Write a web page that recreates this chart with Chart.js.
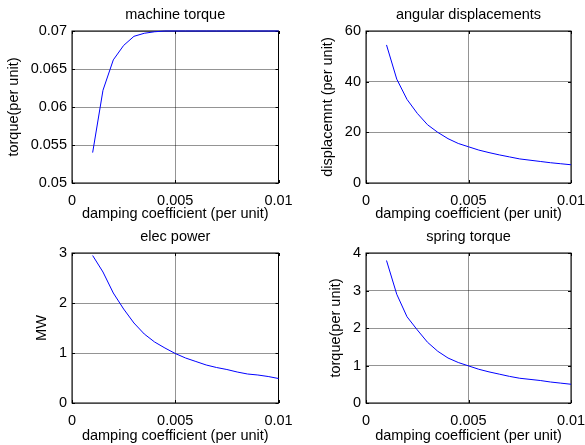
<!DOCTYPE html>
<html>
<head>
<meta charset="utf-8">
<script src="https://cdn.jsdelivr.net/npm/chart.js@4/dist/chart.umd.min.js"></script>
<style>
  html, body { margin: 0; padding: 0; background: #fff; }
  #wrap { position: relative; width: 585px; height: 445px; overflow: hidden; }
  canvas { position: absolute; }
</style>
</head>
<body>
<div id="wrap">
  <canvas id="c1" width="292" height="222" style="left:0;top:0"></canvas>
  <canvas id="c2" width="293" height="222" style="left:292px;top:0"></canvas>
  <canvas id="c3" width="292" height="223" style="left:0;top:222px"></canvas>
  <canvas id="c4" width="293" height="223" style="left:292px;top:222px"></canvas>
</div>
<script>
// damping coefficient (per unit)
const damping = [0.001, 0.0015, 0.002, 0.0025, 0.003, 0.0035, 0.004, 0.0045, 0.005, 0.0055,
                 0.006, 0.0065, 0.007, 0.0075, 0.008, 0.0085, 0.009, 0.0095, 0.01];

const machineTorque = [0.054, 0.0622, 0.0662, 0.0681, 0.0693, 0.0697, 0.0699, 0.07, 0.07, 0.07,
                       0.07, 0.07, 0.07, 0.07, 0.07, 0.07, 0.07, 0.07, 0.07];
const angularDisp = [54.5, 41, 33, 27.5, 23, 20, 17.5, 15.6, 14.3, 13,
                     12, 11.1, 10.3, 9.5, 9, 8.5, 8, 7.6, 7.2];
const elecPower = [2.95, 2.62, 2.2, 1.88, 1.6, 1.38, 1.22, 1.1, 0.99, 0.9,
                   0.83, 0.76, 0.71, 0.67, 0.62, 0.58, 0.56, 0.53, 0.49];
const springTorque = [3.8, 2.9, 2.3, 1.95, 1.62, 1.38, 1.2, 1.08, 0.99, 0.9,
                      0.83, 0.77, 0.71, 0.66, 0.63, 0.6, 0.56, 0.53, 0.5];

const xTicks = [0, 0.005, 0.01];
const xTickLabels = ['0', '0.005', '0.01'];
const torqueTickLabels = ['0.05', '0.055', '0.06', '0.065', '0.07'];
const dispTickLabels = ['0', '20', '40', '60'];
const powerTickLabels = ['0', '1', '2', '3'];
const springTickLabels = ['0', '1', '2', '3', '4'];

const xTitle = 'damping coefficient (per unit)';

const FONT = { family: '"Liberation Sans", Arial, Helvetica, sans-serif', size: 14.5, lineHeight: 1 };

// full box around the plot + small inward tick marks like matlab
const boxPlugin = {
    id: 'box',
    beforeDatasetsDraw(chart) {
        const { ctx, chartArea: a, scales } = chart;
        ctx.save();
        ctx.strokeStyle = '#000';
        ctx.lineWidth = 1;
        ctx.strokeRect(a.left, a.top, a.right - a.left, a.bottom - a.top);
        ctx.beginPath();
        scales.x.ticks.forEach(t => {
            const px = Math.round(scales.x.getPixelForValue(t.value)) + 0.5;
            ctx.moveTo(px, a.bottom); ctx.lineTo(px, a.bottom - 3);
            ctx.moveTo(px, a.top); ctx.lineTo(px, a.top + 3);
        });
        scales.y.ticks.forEach(t => {
            const py = Math.round(scales.y.getPixelForValue(t.value)) + 0.5;
            ctx.moveTo(a.left, py); ctx.lineTo(a.left + 3, py);
            ctx.moveTo(a.right, py); ctx.lineTo(a.right - 3, py);
        });
        ctx.stroke();
        ctx.restore();
    }
};

function makeChart(id, opts) {
    const pts = damping.map((d, i) => ({ x: d, y: opts.values[i] }));
    return new Chart(document.getElementById(id), {
        type: 'line',
        data: {
            datasets: [{
                data: pts,
                borderColor: '#0000ff',
                borderWidth: 1,
                pointRadius: 0,
                tension: 0,
                fill: false,
                clip: false
            }]
        },
        options: {
            responsive: false,
            devicePixelRatio: 1,
            animation: false,
            events: [],
            layout: { padding: { left: 0, right: opts.padRight, top: 0, bottom: 0 } },
            plugins: {
                legend: { display: false },
                tooltip: { enabled: false },
                title: {
                    display: true,
                    fullSize: false,
                    text: opts.title,
                    color: '#000',
                    font: Object.assign({}, FONT, { weight: 'normal' }),
                    padding: { top: 8, bottom: 8.5 }
                }
            },
            scales: {
                x: {
                    type: 'linear',
                    min: 0,
                    max: 0.01,
                    afterBuildTicks: s => { s.ticks = xTicks.map(v => ({ value: v })); },
                    ticks: {
                        color: '#000',
                        font: FONT,
                        padding: 11,
                        maxRotation: 0,
                        callback: (v, i) => xTickLabels[i]
                    },
                    grid: { color: 'rgba(0,0,0,0.42)', drawTicks: false },
                    border: { display: false },
                    title: {
                        display: true,
                        text: xTitle,
                        color: '#000',
                        font: FONT,
                        padding: { top: 0, bottom: opts.xTitlePad }
                    },
                    afterFit: s => {
                        s.height = opts.xHeight;
                        s.paddingLeft = 0;
                        s.paddingRight = 0;
                    }
                },
                y: {
                    type: 'linear',
                    min: opts.yMin,
                    max: opts.yMax,
                    afterBuildTicks: s => {
                        s.ticks = opts.yLabels.map((l, i) => ({ value: opts.yMin + i * opts.yStep }));
                    },
                    ticks: {
                        color: '#000',
                        font: FONT,
                        padding: 5,
                        callback: (v, i) => opts.yLabels[i]
                    },
                    grid: { color: 'rgba(0,0,0,0.42)', drawTicks: false },
                    border: { display: false },
                    title: {
                        display: true,
                        text: opts.yTitle,
                        color: '#000',
                        font: FONT,
                        padding: { top: opts.yTitlePad, bottom: 0 }
                    },
                    afterFit: s => {
                        s.width = opts.yWidth;
                        s.paddingTop = 0;
                        s.paddingBottom = 0;
                    }
                }
            }
        },
        plugins: [boxPlugin]
    });
}

makeChart('c1', {
    title: 'machine torque', yTitle: 'torque(per unit)', values: machineTorque,
    yMin: 0.05, yMax: 0.07, yStep: 0.005, yLabels: torqueTickLabels,
    yWidth: 72, padRight: 13.5, yTitlePad: 6.25, xHeight: 39, xTitlePad: 0.5
});
makeChart('c2', {
    title: 'angular displacements', yTitle: 'displacemnt (per unit)', values: angularDisp,
    yMin: 0, yMax: 60, yStep: 20, yLabels: dispTickLabels,
    yWidth: 74, padRight: 14, yTitlePad: 28.25, xHeight: 39, xTitlePad: 0.5
});
makeChart('c3', {
    title: 'elec power', yTitle: 'MW', values: elecPower,
    yMin: 0, yMax: 3, yStep: 1, yLabels: powerTickLabels,
    yWidth: 72, padRight: 13.5, yTitlePad: 34.25, xHeight: 42, xTitlePad: 1.5
});
makeChart('c4', {
    title: 'spring torque', yTitle: 'torque(per unit)', values: springTorque,
    yMin: 0, yMax: 4, yStep: 1, yLabels: springTickLabels,
    yWidth: 74, padRight: 14, yTitlePad: 36.75, xHeight: 42, xTitlePad: 1.5
});
</script>
</body>
</html>
